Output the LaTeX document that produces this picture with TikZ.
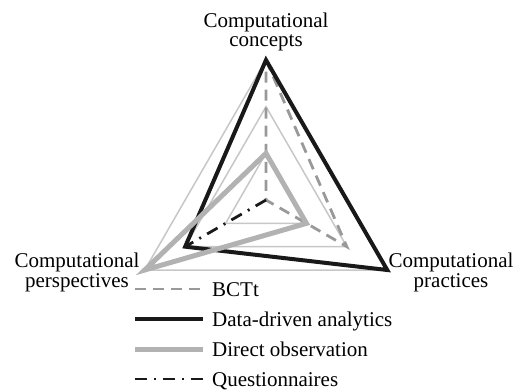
\documentclass[tikz,border=0pt]{standalone}
\usepackage{fontspec}
\setmainfont{Liberation Serif}
\begin{document}
\begin{tikzpicture}[x=1pt,y=-1pt,
  lbl/.style={inner sep=0pt,font=\fontsize{21pt}{19pt}\selectfont,anchor=base},
  leg/.style={inner sep=0pt,font=\fontsize{21pt}{19pt}\selectfont,anchor=base west},
  gridline/.style={draw=black!22,line width=1.5pt},
  bctt/.style={draw=black!40,line width=2.8pt,dash pattern=on 11pt off 7pt},
  ddata/.style={draw=black!90,line width=4pt},
  dobs/.style={draw=black!30,line width=5pt},
  quest/.style={draw=black!90,line width=2.8pt,dash pattern=on 12pt off 7pt on 2pt off 7pt}]
\useasboundingbox (0,0) rectangle (527,390);
\coordinate (O) at (266,200);
\foreach \k in {1,2,3}{
  \path (O) ++(-90:46.667*\k) coordinate (c\k);
  \path (O) ++(30:46.667*\k) coordinate (p\k);
  \path (O) ++(150:46.667*\k) coordinate (s\k);
}
% grid
\foreach \k in {1,2,3}{
  \draw[gridline] (c\k) -- (p\k) -- (s\k) -- cycle;
}
% series
\draw[bctt] (c3) -- (p2) -- (O) -- cycle;
\draw[ddata] (c3) -- (p3) -- (s2) -- cycle;
\draw[dobs] (c1) -- (p1) -- (s3) -- cycle;
\draw[quest] (O) -- (s2);
% axis labels
\node[lbl] (tc1) at (266,28) {Computational};
\node[lbl] (tc2) at (266,47) {concepts};
\node[lbl] (ts1) at (77,267) {Computational};
\node[lbl] (ts2) at (77,287) {perspectives};
\node[lbl] (tp1) at (451,267) {Computational};
\node[lbl] (tp2) at (451,287) {practices};
% legend
\coordinate (la1) at (135,289); \coordinate (lb1) at (203,289);
\coordinate (la2) at (135,319); \coordinate (lb2) at (203,319);
\coordinate (la3) at (135,349); \coordinate (lb3) at (203,349);
\coordinate (la4) at (135,379); \coordinate (lb4) at (203,379);
\draw[bctt] (la1) -- (lb1);
\draw[ddata] (la2) -- (lb2);
\draw[dobs] (la3) -- (lb3);
\draw[quest] (la4) -- (lb4);
\node[leg] (g1) at (212,296) {BCTt};
\node[leg] (g2) at (212,326) {Data-driven analytics};
\node[leg] (g3) at (212,356) {Direct observation};
\node[leg] (g4) at (212,386) {Questionnaires};
\end{tikzpicture}
\end{document}
